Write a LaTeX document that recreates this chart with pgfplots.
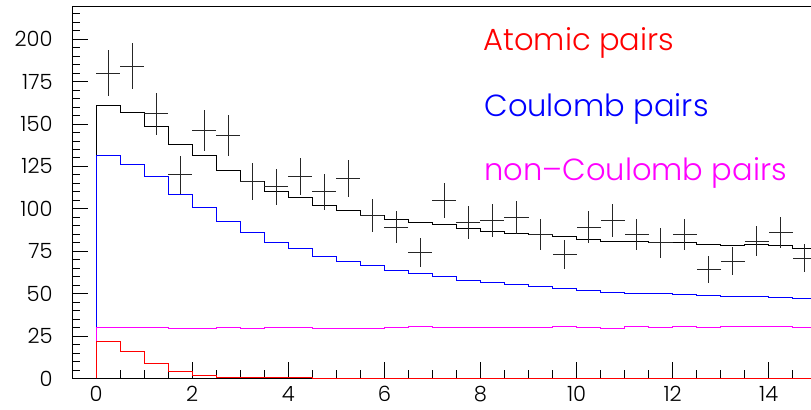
\documentclass[border=0pt]{standalone}
\usepackage{fontspec}
\setmainfont{Poppins}[UprightFont={* Light}]
\usepackage{pgfplots}
\usepackage{pgfplotstable}
\pgfplotsset{compat=1.18}

\definecolor{histred}{RGB}{255,0,0}
\definecolor{histblue}{RGB}{0,0,255}
\definecolor{histmag}{RGB}{255,0,255}

% histogram bins of width 0.5: left edge, content
\pgfplotstableread{
x    total  coul  atom  nonc
0    0      0     0     0
0    160.9  131.2 21.6  29.8
0.5  156.7  126.3 15.7  29.8
1.0  148.5  118.8 8.7   29.8
1.5  138.2  108.7 4.1   29.3
2.0  131.2  100.7 1.8   29.7
2.5  122.3  92.4  0.5   29.8
3.0  116.0  86.3  0.4   29.7
3.5  110.3  80.0  0.4   29.8
4.0  106.5  76.6  0.4   29.8
4.5  102.1  72.2  0.0   29.7
5.0  98.9   69.1  0.0   29.7
5.5  96.2   66.7  0.0   29.7
6.0  93.6   63.7  0.0   29.8
6.5  92.2   61.8  0.0   30.6
7.0  90.5   60.4  0.0   29.9
7.5  88.3   58.0  0.0   29.9
8.0  86.9   56.8  0.0   29.9
8.5  85.7   55.6  0.0   29.9
9.0  85.0   54.5  0.0   29.9
9.5  83.6   53.3  0.0   30.5
10.0 82.0   51.7  0.0   29.9
10.5 81.0   50.9  0.0   29.6
11.0 80.6   50.0  0.0   30.4
11.5 80.4   50.0  0.0   29.9
12.0 80.0   49.5  0.0   30.8
12.5 79.2   48.8  0.0   29.9
13.0 78.5   48.1  0.0   30.4
13.5 78.9   48.1  0.0   30.8
14.0 78.1   47.5  0.0   30.8
14.5 76.9   46.9  0.0   29.9
15.0 76.9   46.9  0.0   29.9
}\hist

% measured pairs: bin centre, counts, half bin width, statistical error
\pgfplotstableread{
x     n    ex    ey
0.25  180  0.25  13.4
0.75  184  0.25  13.6
1.25  156  0.25  12.5
1.75  120  0.25  11.0
2.25  146  0.25  12.1
2.75  143  0.25  12.0
3.25  116  0.25  10.8
3.75  113  0.25  10.6
4.25  119  0.25  10.9
4.75  110  0.25  10.5
5.25  118  0.25  10.9
5.75  96   0.25  9.8
6.25  89   0.25  9.4
6.75  74   0.25  8.6
7.25  105  0.25  10.2
7.75  92   0.25  9.6
8.25  93   0.25  9.6
8.75  95   0.25  9.7
9.25  85   0.25  9.2
9.75  73   0.25  8.5
10.25 89   0.25  9.4
10.75 93   0.25  9.6
11.25 85   0.25  9.2
11.75 80   0.25  8.9
12.25 85   0.25  9.2
12.75 64   0.25  8.0
13.25 69   0.25  8.3
13.75 81   0.25  9.0
14.25 86   0.25  9.3
14.75 71   0.25  8.4
}\meas

% draw the histograms above the frame so the empty bins show in red
\pgfplotsset{
  layers/histfront/.define layer set={
    axis background,axis grid,axis ticks,axis lines,axis tick labels,
    main,axis descriptions,axis foreground}{},
}

\begin{document}
\begin{tikzpicture}
\begin{axis}[
  set layers=histfront,
  scale only axis,
  width=738pt, height=372pt,
  xmin=-0.5, xmax=14.88,
  ymin=0, ymax=219.5,
  axis x line*=box,
  axis y line*=left,
  y axis line style={-},
  axis line style={line width=0.8pt},
  xtick pos=bottom, ytick pos=left,
  tick align=inside,
  xtick={0,2,...,14},
  minor xtick={0.5,1,...,14.5},
  ytick={0,25,...,200},
  minor ytick={5,10,...,215},
  major tick length=16pt,
  minor tick length=8pt,
  tick style={black, line width=0.8pt},
  /pgf/number format/assume math mode=true,
  ticklabel style={font=\fontsize{21}{21}\selectfont},
  yticklabel shift=16pt,
  xticklabel shift=4pt,
  every axis plot/.append style={line width=0.9pt},
]
\addplot[black, const plot] table[x=x, y=total] {\hist};
\addplot[histblue, const plot] table[x=x, y=coul] {\hist};
\addplot[histmag, const plot] table[x=x, y=nonc] {\hist};
\addplot[histred, const plot] table[x=x, y=atom] {\hist};

\addplot[draw=none, mark=none,
  error bars/.cd, x dir=both, x explicit, y dir=both, y explicit,
  error mark=none, error bar style={draw=black!85, solid, line width=0.9pt}]
  table[x=x, y=n, x error=ex, y error=ey] {\meas};

\node[anchor=base west, text=histred, font=\fontsize{30.5}{30.5}\selectfont]
  at (axis cs:7.99,193.1) {Atomic pairs};
\node[anchor=base west, text=histblue, font=\fontsize{30.5}{30.5}\selectfont]
  at (axis cs:8.01,154.6) {Coulomb pairs};
\node[anchor=base west, text=histmag, font=\fontsize{30.5}{30.5}\selectfont]
  at (axis cs:8.01,116.4) {non--Coulomb pairs};
\end{axis}
\pgfresetboundingbox
\path[use as bounding box] ([xshift=-72pt,yshift=-31pt]current axis.south west)
  rectangle ([yshift=6pt]current axis.north east);
\end{tikzpicture}
\end{document}
